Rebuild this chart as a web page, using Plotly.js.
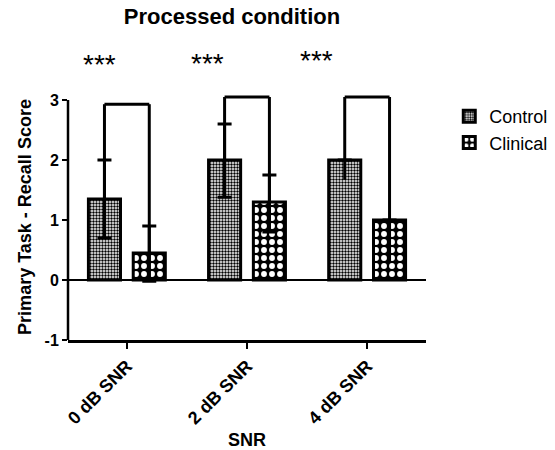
<!DOCTYPE html>
<html>
<head>
<meta charset="utf-8">
<script src="https://cdn.plot.ly/plotly-3.0.1.min.js"></script>
<style>html,body{margin:0;padding:0;background:#fff;}#chart{width:555px;height:450px;}</style>
</head>
<body>
<div id="chart"></div>
<script>
// ---- data ----
const categories = ["0 dB SNR", "2 dB SNR", "4 dB SNR"];
const controlMean = [1.35, 2.0, 2.0];
const controlErrPlus = [0.65, 0.6, 0];
const controlErrMinus = [0.65, 0.62, 0];
const clinicalMean = [0.45, 1.3, 1.0];
const clinicalErrPlus = [0.45, 0.45, 0];
const clinicalErrMinus = [0.47, 0.5, 0];
const bracketTop = [2.93, 3.05, 3.05];
const controlLegEnd = [0.7, 1.38, 1.67];
const clinicalLegEnd = [-0.02, 0.8, 0.3];
const sigLabels = ["***", "***", "***"];
const sigX = [-0.23, 0.67, 1.58];
const sigY = [1.118, 1.126, 1.138];
const yTicks = [-1, 0, 1, 2, 3];

// ---- layout constants ----
const idx = categories.map((c, i) => i);
const barW = 0.267;
const ctrlOffset = -0.32;
const clinOffset = 0.053;
const ctrlCenter = ctrlOffset + barW / 2;
const clinCenter = clinOffset + barW / 2;
const FONT = "Liberation Sans, Arial, Helvetica, sans-serif";

const errStyle = {type: "data", symmetric: false, color: "black", thickness: 3, width: 7};

const traces = [
  {
    type: "bar", name: "Control", x: idx, y: controlMean,
    width: barW, offset: ctrlOffset,
    marker: {color: "white", line: {color: "black", width: 3},
      pattern: {shape: ".", size: 3, solidity: 0.5, fgcolor: "black", bgcolor: "white", fgopacity: 1, fillmode: "replace"}},
    error_y: Object.assign({array: controlErrPlus, arrayminus: controlErrMinus}, errStyle)
  },
  {
    type: "bar", name: "Clinical", x: idx, y: clinicalMean,
    width: barW, offset: clinOffset,
    marker: {color: "black", line: {color: "black", width: 3},
      pattern: {shape: ".", size: 8, solidity: 0.42, fgcolor: "white", bgcolor: "black", fgopacity: 1, fillmode: "replace"}},
    error_y: Object.assign({array: clinicalErrPlus, arrayminus: clinicalErrMinus}, errStyle)
  }
];

const shapes = [];
idx.forEach(i => {
  const xa = i + ctrlCenter, xb = i + clinCenter;
  const ln = {color: "black", width: 3};
  shapes.push({type: "line", xref: "x", yref: "y", x0: xa, x1: xb, y0: bracketTop[i], y1: bracketTop[i], line: ln, layer: "above"});
  shapes.push({type: "line", xref: "x", yref: "y", x0: xa, x1: xa, y0: bracketTop[i], y1: controlLegEnd[i], line: ln, layer: "above"});
  shapes.push({type: "line", xref: "x", yref: "y", x0: xb, x1: xb, y0: bracketTop[i], y1: clinicalLegEnd[i], line: ln, layer: "above"});
});
// y axis line from -1 to 3
shapes.push({type: "line", xref: "paper", yref: "y", x0: 0, x1: 0, y0: yTicks[0], y1: yTicks[yTicks.length - 1], line: {color: "black", width: 2.5}, layer: "above"});

const annotations = sigLabels.map((t, i) => ({
  text: t, x: sigX[i], y: sigY[i], xref: "x", yref: "paper", showarrow: false,
  xanchor: "center", yanchor: "middle",
  font: {family: FONT, size: 28, color: "black"}
}));

const layout = {
  width: 555, height: 450,
  margin: {l: 68, r: 129, t: 94, b: 110, autoexpand: false},
  paper_bgcolor: "white", plot_bgcolor: "white",
  font: {family: FONT, color: "black"},
  title: {text: "<b>Processed condition</b>", x: 0.418, xref: "container", xanchor: "center", y: 0.964, yanchor: "middle",
    font: {family: FONT, size: 22, color: "black"}},
  barmode: "group",
  showlegend: true,
  legend: {x: 1.065, y: 0.984, xanchor: "left", yanchor: "top", font: {family: FONT, size: 18, color: "black"},
    itemwidth: 30, tracegroupgap: 0, bgcolor: "rgba(0,0,0,0)"},
  xaxis: {
    range: [-0.49, 2.49], tickvals: idx, ticktext: categories.map(c => "<b>" + c + "</b>"),
    tickangle: -45, ticks: "outside", ticklen: 6, tickwidth: 2.5, tickcolor: "black",
    showline: true, linecolor: "black", linewidth: 2.5, showgrid: false, zeroline: false,
    tickfont: {family: FONT, size: 18, color: "black"},
    title: {text: "<b>SNR</b>", font: {family: FONT, size: 18, color: "black"}, standoff: 6},
    fixedrange: true
  },
  yaxis: {
    range: [-1, 3.1], tickvals: yTicks, ticktext: yTicks.map(v => "<b>" + v + "</b>"),
    ticks: "outside", ticklen: 5, tickwidth: 2.5, tickcolor: "black",
    showline: false, showgrid: false, zeroline: true, zerolinecolor: "black", zerolinewidth: 2.5,
    tickfont: {family: FONT, size: 16, color: "black"},
    title: {text: "<b>Primary Task - Recall Score</b>", font: {family: FONT, size: 18, color: "black"}, standoff: 8},
    fixedrange: true
  },
  shapes: shapes,
  annotations: annotations
};

Plotly.newPlot("chart", traces, layout, {displayModeBar: false, staticPlot: true});
</script>
</body>
</html>
